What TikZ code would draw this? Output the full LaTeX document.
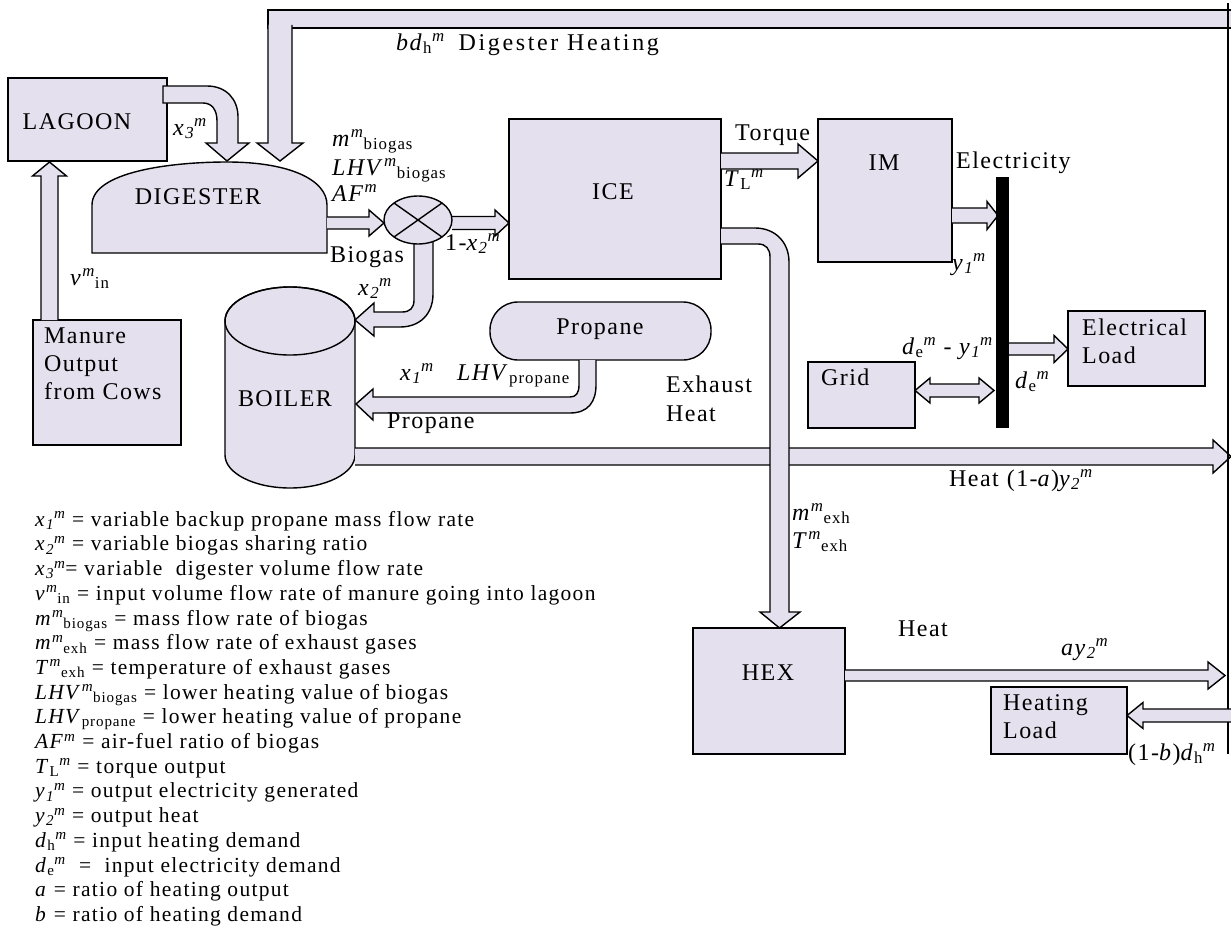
\documentclass[tikz,border=0pt]{standalone}
\usepackage{fontspec}
\setmainfont{Liberation Serif}[LetterSpace=6]
\usetikzlibrary{shapes.geometric}
\definecolor{boxfill}{RGB}{228,224,237}
\newcommand\Sp[1]{\textsuperscript{\itshape #1}}
\newcommand\Sb[1]{\textsubscript{#1}}
\newcommand\lblfont{\fontsize{24}{28}\selectfont}
\newcommand\legfont{\fontsize{21.5}{25}\selectfont}
% horizontal block arrow: start x, tip x, centre y, shaft half, head half, head length (signed)
\newcommand\HArrow[6]{%
  \filldraw[blk] ({#1},{#3-(#4)}) -- ({#2-(#6)},{#3-(#4)}) -- ({#2-(#6)},{#3-(#5)}) -- ({#2},{#3})
    -- ({#2-(#6)},{#3+(#5)}) -- ({#2-(#6)},{#3+(#4)}) -- ({#1},{#3+(#4)});}
% vertical block arrow: start y, tip y, centre x, shaft half, head half, head length (signed)
\newcommand\VArrow[6]{%
  \filldraw[blk] ({#3-(#4)},{#1}) -- ({#3-(#4)},{#2-(#6)}) -- ({#3-(#5)},{#2-(#6)}) -- ({#3},{#2})
    -- ({#3+(#5)},{#2-(#6)}) -- ({#3+(#4)},{#2-(#6)}) -- ({#3+(#4)},{#1});}
\begin{document}
\begin{tikzpicture}[x=1pt,y=-1pt,
  blk/.style={draw=black,line width=1.4pt,fill=boxfill,line join=miter},
  box/.style={blk,rectangle,inner sep=0pt,outer sep=0pt},
  lbl/.style={anchor=west,inner sep=0pt,font=\lblfont,text height=0.8em,text depth=0.15em},
  ctr/.style={lbl,anchor=center},
  leg/.style={anchor=west,inner sep=0pt,font=\legfont,text height=0.8em,text depth=0.15em}]
\useasboundingbox (0,0) rectangle (1231,934);

% digester heating pipe (top)
\filldraw[blk] (268,10) rectangle (1245,28);
\VArrow{25}{161}{280}{12}{23}{18}

% lagoon and manure
\node[box,minimum width=159,minimum height=83] (lagoon) at (87.5,119.5) {};
\node[box,minimum width=148,minimum height=125] (manure) at (107,382.5) {};
\VArrow{320}{162}{49.5}{8.5}{17}{-14}

% x3 bent arrow lagoon -> digester
\filldraw[blk] (163,86) -- (207,86) .. controls (226,86) and (238,99) .. (238,117) -- (238,143)
  -- (249,143) -- (227,161) -- (206,143) -- (217,143) -- (217,121)
  .. controls (217,110) and (212,103) .. (203,103) -- (163,103) -- cycle;

% digester
\filldraw[blk] (92,253) -- (92,205) .. controls (92,172) and (170,162) .. (227,162)
  .. controls (290,162) and (327,180) .. (327,205) -- (327,253) -- cycle;
\coordinate (dig) at (210,220);

% biogas branch to boiler (x2)
\filldraw[blk] (414,243) -- (414,300) .. controls (414,308) and (410,312) .. (402,312) -- (374,312)
  -- (374,303) -- (355,320) -- (374,336) -- (374,327) -- (400,327)
  .. controls (420,327) and (433,314) .. (433,294) -- (433,241);
% biogas arrows
\HArrow{327}{384}{223}{6}{13}{15}
\HArrow{452}{509}{223}{6.5}{13}{14}
% mixer
\node[blk,ellipse,minimum width=68,minimum height=48,inner sep=0pt] (mix) at (418,220) {};
\draw[line width=1.4pt] (mix.center) ++(-24,-17) -- ++(48,34);
\draw[line width=1.4pt] (mix.center) ++(-24,17) -- ++(48,-34);

% boiler
\filldraw[blk] (225,321) -- (225,455) arc (180:0:65 and 33) -- (355,321) arc (0:-180:65 and 34) -- cycle;
\draw[line width=1.4pt] (290,321) ellipse (65 and 34);
\coordinate (boiler) at (290,400);

% heat (1-a) arrow from boiler
\HArrow{355}{1231}{456.5}{8.5}{16.5}{18}

% propane tank and arrow
\node[box,rounded corners=28pt,minimum width=221,minimum height=58] (tank) at (600.5,331) {};
\filldraw[blk] (596,360) -- (596,385) .. controls (596,402) and (588,413) .. (570,413) -- (373,413)
  -- (373,420) -- (356,404) -- (373,389) -- (373,397) -- (570,397)
  .. controls (576,397) and (579,393) .. (579,385) -- (579,360);

% ICE
\node[box,minimum width=212,minimum height=160] (ice) at (615,199) {};
% exhaust pipe
\filldraw[blk] (721,228) -- (755,228) .. controls (775,228) and (789,242) .. (789,262) -- (789,612)
  -- (800,612) -- (779.5,628) -- (760,612) -- (770,612) -- (770,257)
  .. controls (770,249) and (766,244) .. (758,244) -- (721,244);

% torque, IM, bus
\HArrow{721}{818}{161}{8}{17}{20}
\node[box,minimum width=134,minimum height=143] (im) at (885,190.5) {};
\HArrow{952}{998}{215.5}{7.5}{14}{11}
\node[fill=black,minimum width=13,minimum height=251,inner sep=0pt,outer sep=0pt] (bus) at (1002.5,302.5) {};
\HArrow{1009}{1068}{349}{6}{13.5}{14}
\node[box,minimum width=137,minimum height=75] (eload) at (1136.5,348.5) {};
\node[box,minimum width=107,minimum height=66] (grid) at (861.5,395) {};
\filldraw[blk] (930,384) -- (979,384) -- (979,378) -- (994,390.5) -- (979,403) -- (979,397)
  -- (930,397) -- (930,403) -- (915,390.5) -- (930,378) -- cycle;

% HEX and heating load
\node[box,minimum width=152,minimum height=126] (hex) at (769,691) {};
\HArrow{845}{1225}{675.5}{5.5}{13.5}{17}
\node[box,minimum width=136,minimum height=67] (hload) at (1059,720.5) {};
\HArrow{1245}{1127}{715.5}{6.5}{13}{-16}
\draw[line width=2.6pt] (1228,3) -- (1228,709) (1228,722) -- (1228,754);

% texts in shapes
\node[ctr] (lagoon-t) at (77,126) {LAGOON};
\node[ctr] (dig-t) at (198,201) {DIGESTER};
\node[lbl] (man-1) at (44,340) {Manure};
\node[lbl] (man-2) at (44,368) {Output};
\node[lbl] (man-3) at (44,396) {from Cows};
\node[ctr] (boiler-t) at (285,403) {BOILER};
\node[ctr] (ice-t) at (613,196) {ICE};
\node[ctr] (im-t) at (884,167) {IM};
\node[ctr] (hex-t) at (768,677) {HEX};
\node[ctr] (tank-t) at (600,331) {Propane};
\node[lbl] (grid-t) at (821,382) {Grid};
\node[lbl] (el-1) at (1082,332) {Electrical};
\node[lbl] (el-2) at (1082,360) {Load};
\node[lbl] (hl-1) at (1003,707) {Heating};
\node[lbl] (hl-2) at (1003,735) {Load};

% flow labels
\node[lbl] (l-x3) at (173,132) {\textit{x}\Sb{\itshape 3}\Sp{m}};
\node[lbl] (l-bd) at (396,47) {\textit{bd}\Sb{h}\Sp{m}\hspace{14pt}\addfontfeature{LetterSpace=11}Digester Heating};
\node[lbl] (l-mb) at (332,143) {\textit{m}\Sp{m}\Sb{biogas}};
\node[lbl] (l-lhvb) at (332,172) {\textit{LHV}\Sp{m}\Sb{biogas}};
\node[lbl] (l-af) at (332,198) {\textit{AF}\Sp{m}};
\node[lbl] (l-biogas) at (330,259) {Biogas};
\node[lbl] (l-1x2) at (445,247) {1-\textit{x}\Sb{\itshape 2}\Sp{m}};
\node[lbl] (l-x2) at (358,292) {\textit{x}\Sb{\itshape 2}\Sp{m}};
\node[lbl] (l-vin) at (70,282) {\textit{v}\Sp{m}\Sb{in}};
\node[lbl] (l-x1) at (400,377) {\textit{x}\Sb{\itshape 1}\Sp{m}};
\node[lbl] (l-lhvp) at (457,377) {\textit{LHV}\Sb{propane}};
\node[lbl] (l-prop) at (387,425) {Propane};
\node[lbl] (l-exh1) at (666,389) {Exhaust};
\node[lbl] (l-exh2) at (666,418) {Heat};
\node[lbl] (l-torque) at (735,137) {Torque};
\node[lbl] (l-tl) at (724,183) {\textit{T}\Sb{L}\Sp{m}};
\node[lbl] (l-elec) at (956,165) {Electricity};
\node[lbl] (l-y1) at (952,267) {\textit{y}\Sb{\itshape 1}\Sp{m}};
\node[lbl] (l-dey) at (902,351) {\textit{d}\Sb{e}\Sp{m} - \textit{y}\Sb{\itshape 1}\Sp{m}};
\node[lbl] (l-de) at (1015,385) {\textit{d}\Sb{e}\Sp{m}};
\node[lbl] (l-heat1) at (949,483) {Heat\hspace{8pt}(1-\textit{a})\textit{y}\Sb{\itshape 2}\Sp{m}};
\node[lbl] (l-mexh) at (792,517) {\textit{m}\Sp{m}\Sb{exh}};
\node[lbl] (l-texh) at (792,545) {\textit{T}\Sp{m}\Sb{exh}};
\node[lbl] (l-heat2) at (898,633) {Heat};
\node[lbl] (l-ay) at (1061,652) {\textit{ay}\Sb{\itshape 2}\Sp{m}};
\node[lbl] (l-bdh) at (1128,757) {(1-\textit{b})\textit{d}\Sb{h}\Sp{m}};

% legend
\node[leg] (g1) at (35,523) {\textit{x}\Sb{\itshape 1}\Sp{m} = variable backup propane mass flow rate};
\node[leg] (g2) at (35,547.7) {\textit{x}\Sb{\itshape 2}\Sp{m} = variable biogas sharing ratio};
\node[leg] (g3) at (35,572.4) {\textit{x}\Sb{\itshape 3}\Sp{m}= variable\ \ digester volume flow rate};
\node[leg] (g4) at (35,597.1) {\textit{v}\Sp{m}\Sb{in} = input volume flow rate of manure going into lagoon};
\node[leg] (g5) at (35,621.8) {\textit{m}\Sp{m}\Sb{biogas} = mass flow rate of biogas};
\node[leg] (g6) at (35,646.5) {\textit{m}\Sp{m}\Sb{exh} = mass flow rate of exhaust gases};
\node[leg] (g7) at (35,671.2) {\textit{T}\Sp{m}\Sb{exh} = temperature of exhaust gases};
\node[leg] (g8) at (35,695.9) {\textit{LHV}\Sp{m}\Sb{biogas} = lower heating value of biogas};
\node[leg] (g9) at (35,720.6) {\textit{LHV}\Sb{propane} = lower heating value of propane};
\node[leg] (g10) at (35,745.3) {\textit{AF}\Sp{m} = air-fuel ratio of biogas};
\node[leg] (g11) at (35,770) {\textit{T}\Sb{L}\Sp{m} = torque output};
\node[leg] (g12) at (35,794.7) {\textit{y}\Sb{\itshape 1}\Sp{m} = output electricity generated};
\node[leg] (g13) at (35,819.4) {\textit{y}\Sb{\itshape 2}\Sp{m} = output heat};
\node[leg] (g14) at (35,844.1) {\textit{d}\Sb{h}\Sp{m} = input heating demand};
\node[leg] (g15) at (35,868.8) {\textit{d}\Sb{e}\Sp{m}\ \ =\ \ input electricity demand};
\node[leg] (g16) at (35,893.5) {\textit{a} = ratio of heating output};
\node[leg] (g17) at (35,918.2) {\textit{b} = ratio of heating demand};
\end{tikzpicture}
\end{document}
